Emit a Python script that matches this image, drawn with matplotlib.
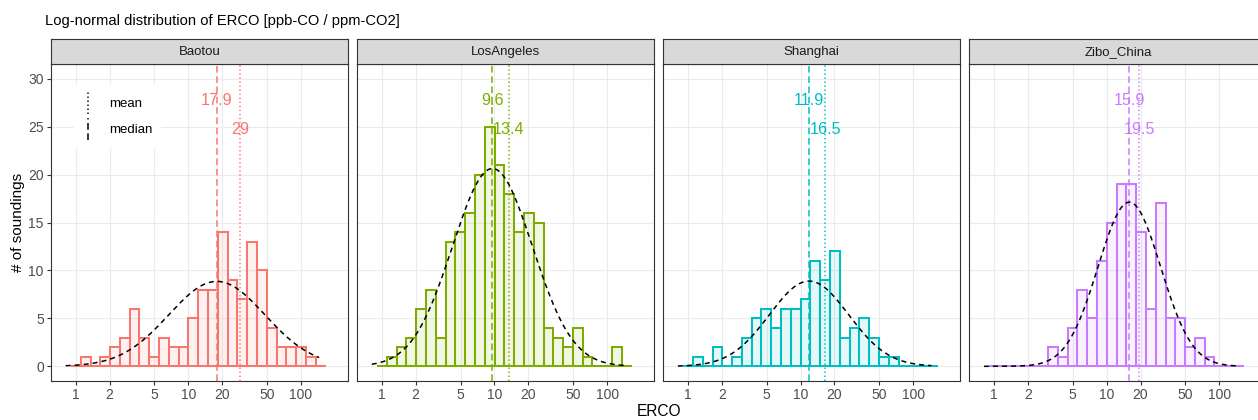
import numpy as np
import matplotlib
matplotlib.use("Agg")
import matplotlib.pyplot as plt
from matplotlib.lines import Line2D
from matplotlib.legend_handler import HandlerBase
from matplotlib.ticker import FixedLocator, FixedFormatter, NullLocator

plt.rcParams['font.family'] = ['Liberation Sans', 'DejaVu Sans']
plt.rcParams['lines.scale_dashes'] = False

# ---------------- data ----------------
sites = ["Baotou", "LosAngeles", "Shanghai", "Zibo_China"]
colors = ["#F8766D", "#7CAE00", "#00BFC4", "#C77CFF"]
counts_baotou = [0, 1, 0, 1, 2, 3, 6, 3, 1, 3, 2, 2, 5, 8, 8, 14, 9, 7, 13, 10, 4, 2, 2, 2, 1, 0]
counts_la = [0, 1, 2, 3, 6, 8, 3, 13, 14, 16, 20, 25, 21, 18, 14, 16, 15, 4, 3, 2, 4, 1, 0, 0, 2, 0]
counts_shanghai = [0, 1, 0, 2, 0, 1, 3, 5, 6, 4, 6, 6, 7, 11, 9, 12, 3, 4, 5, 3, 1, 1, 0, 0, 0, 0]
counts_zibo = [0, 0, 0, 0, 0, 0, 2, 1, 4, 8, 5, 11, 15, 19, 19, 14, 6, 17, 5, 5, 2, 3, 1, 0, 0, 0]
all_counts = [counts_baotou, counts_la, counts_shanghai, counts_zibo]
medians = [17.9, 9.6, 11.9, 15.9]
means = [29, 13.4, 16.5, 19.5]
bin_lo, bin_hi = 0.908, 165.2          # shared histogram range (ERCO)
curve_lo, curve_hi = 0.815, 145.0      # range of fitted log-normal curve
x_ticks = [1, 2, 5, 10, 20, 50, 100]
x_tick_labels = ["1", "2", "5", "10", "20", "50", "100"]
y_ticks = [0, 5, 10, 15, 20, 25, 30]
title = "Log-normal distribution of ERCO [ppb-CO / ppm-CO2]"

# ---------------- layout ----------------
W, H = 1258, 420
fig = plt.figure(figsize=(W / 100, H / 100), dpi=100)
fig.patch.set_facecolor("white")

panel_left0 = 51.0
panel_step = 306.1
panel_w = 297.2
panel_top = 64.3
panel_bot = 380.7
strip_top = 39.0

n_bins = len(counts_baotou)
edges = np.logspace(np.log10(bin_lo), np.log10(bin_hi), n_bins + 1)
binw_log = (np.log10(bin_hi) - np.log10(bin_lo)) / n_bins


class VLineHandler(HandlerBase):
    def create_artists(self, legend, orig_handle, xdescent, ydescent,
                       width, height, fontsize, trans):
        x = width / 2 - xdescent
        ln = Line2D([x, x], [-ydescent, height - ydescent])
        ln.update_from(orig_handle)
        ln.set_transform(trans)
        return [ln]


dash_med = (0, (4.8, 2.6))
dot_mean = (0, (1.0, 1.9))

for i, (site, col, cnts, med, mn) in enumerate(zip(sites, colors, all_counts, medians, means)):
    left = panel_left0 + i * panel_step
    ax = fig.add_axes([left / W, 1 - panel_bot / H, panel_w / W, (panel_bot - panel_top) / H])
    ax.set_xscale("log")
    ax.set_xlim(0.604, 262.4)
    ax.set_ylim(-1.5, 31.5)
    ax.set_facecolor("white")
    ax.set_axisbelow(True)

    # grid
    for xt in x_ticks:
        ax.axvline(xt, color="#EBEBEB", lw=0.85, zorder=0)
    for yt in y_ticks:
        ax.axhline(yt, color="#EBEBEB", lw=0.85, zorder=0)

    # histogram
    ax.bar(edges[:-1], cnts, width=np.diff(edges), align="edge",
           facecolor=matplotlib.colors.to_rgba(col, 0.1),
           edgecolor=col, linewidth=1.45, zorder=2)

    # fitted log-normal curve (scaled to counts)
    n_tot = sum(cnts)
    sig = np.sqrt(2 * np.log(mn / med)) / np.log(10)
    xs = np.logspace(np.log10(curve_lo), np.log10(curve_hi), 300)
    z = (np.log10(xs) - np.log10(med)) / sig
    dens = n_tot * binw_log * np.exp(-0.5 * z ** 2) / (sig * np.sqrt(2 * np.pi))
    ax.plot(xs, dens, color="black", lw=1.1, ls=(0, (3.6, 2.9)), zorder=4)

    # median / mean lines
    ax.axvline(med, color=col, lw=1.1, ls=dash_med, zorder=3)
    ax.axvline(mn, color=col, lw=1.1, ls=dot_mean, zorder=3)
    ax.text(med, 27.75, f"{med:g}", color=col, ha="center", va="center", fontsize=11.6, zorder=5)
    ax.text(mn, 24.75, f"{mn:g}", color=col, ha="center", va="center", fontsize=11.6, zorder=5)

    # axes styling
    ax.xaxis.set_major_locator(FixedLocator(x_ticks))
    ax.xaxis.set_major_formatter(FixedFormatter(x_tick_labels))
    ax.xaxis.set_minor_locator(NullLocator())
    ax.tick_params(axis="x", length=3.0, width=0.8, color="#333333",
                   labelsize=10, labelcolor="#4D4D4D", pad=2.2)
    if i == 0:
        ax.set_yticks(y_ticks)
        ax.tick_params(axis="y", length=3.0, width=0.8, color="#333333",
                       labelsize=10, labelcolor="#4D4D4D", pad=2.2)
    else:
        ax.set_yticks([])
    for sp in ax.spines.values():
        sp.set_color("#333333")
        sp.set_linewidth(0.8)

    if i == 0:
        h_mean = Line2D([], [], color="black", lw=1.1, ls=dot_mean)
        h_med = Line2D([], [], color="black", lw=1.1, ls=dash_med)
        leg = ax.legend([h_mean, h_med], ["mean", "median"],
                        handler_map={Line2D: VLineHandler()},
                        loc="upper left",
                        bbox_to_anchor=((74 - 51) / panel_w, 1 - (85 - panel_top) / (panel_bot - panel_top)),
                        borderaxespad=0, fontsize=9.5, frameon=True, fancybox=False,
                        handlelength=0.95, handleheight=2.2, handletextpad=1.15,
                        labelspacing=0.28, borderpad=0.55)
        leg.get_frame().set_facecolor("white")
        leg.get_frame().set_edgecolor("white")
        leg.get_frame().set_alpha(1)
        leg.set_zorder(6)

    # strip
    sax = fig.add_axes([left / W, 1 - panel_top / H, panel_w / W, (panel_top - strip_top) / H])
    sax.set_facecolor("#D9D9D9")
    sax.set_xticks([])
    sax.set_yticks([])
    for sp in sax.spines.values():
        sp.set_color("#333333")
        sp.set_linewidth(0.8)
    sax.text(0.5, 0.5, site, ha="center", va="center", fontsize=9.5, color="#1A1A1A",
             transform=sax.transAxes)

fig.text(45 / W, 1 - 21.5 / H, title, ha="left", va="center", fontsize=10.6, color="black")
fig.text(18 / W, 1 - (panel_top + panel_bot) / 2 / H, "# of soundings", rotation=90,
         ha="center", va="center", fontsize=11)
fig.text(659 / W, 1 - 411 / H, "ERCO", ha="center", va="center", fontsize=11.2)

fig.savefig("out.png", dpi=100)
